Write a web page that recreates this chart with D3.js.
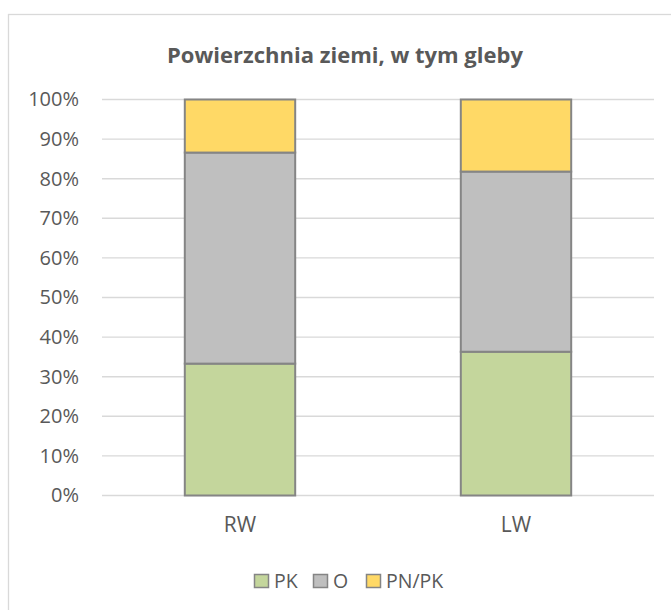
<!DOCTYPE html>
<html>
<head>
<meta charset="utf-8">
<script src="https://cdn.jsdelivr.net/npm/d3@7"></script>
<style>
  html, body { margin: 0; padding: 0; background: #ffffff; }
  svg { display: block; }
  text { font-family: "Open Sans", "DejaVu Sans", sans-serif; fill: #595959; }
</style>
</head>
<body>
<script>
// Land surface, including soils — share of each class per site (%)
const categories = ["RW", "LW"];
const seriesNames = ["PK", "O", "PN/PK"];
const pkValues = [33.3, 36.3];
const oValues = [53.3, 45.5];
const pnpkValues = [13.4, 18.2];
const yTicks = [0, 10, 20, 30, 40, 50, 60, 70, 80, 90, 100];
const seriesColors = ["#C4D69C", "#BFBFBF", "#FFD966"];
const title = "Powierzchnia ziemi, w tym gleby";

const rows = categories.map((c, i) => ({
  cat: c, "PK": pkValues[i], "O": oValues[i], "PN/PK": pnpkValues[i]
}));

const W = 671, H = 610;
const svg = d3.select("body").append("svg").attr("width", W).attr("height", H);

// chart frame (left and top edges fall inside the page)
svg.append("rect")
  .attr("x", 8.5).attr("y", 14.5)
  .attr("width", 720).attr("height", 720)
  .attr("fill", "none").attr("stroke", "#d9d9d9").attr("stroke-width", 1.3);

const plot = { left: 102, right: 654, top: 99.5, bottom: 495.5 };

const x = d3.scaleBand()
  .domain(categories)
  .range([plot.left, plot.right])
  .paddingInner(0.6)
  .paddingOuter(0.3);

const y = d3.scaleLinear().domain([0, 100]).range([plot.bottom, plot.top]);

// gridlines
svg.append("g")
  .selectAll("line")
  .data(yTicks)
  .join("line")
  .attr("x1", plot.left).attr("x2", plot.right)
  .attr("y1", d => y(d)).attr("y2", d => y(d))
  .attr("stroke", "#d9d9d9").attr("stroke-width", 1.4);

// y axis labels
const yAxis = d3.axisLeft(y).tickValues(yTicks).tickFormat(d => d + "%").tickSize(0).tickPadding(0);
const gy = svg.append("g").attr("transform", "translate(79,0)").call(yAxis);
gy.select(".domain").remove();
gy.selectAll("text")
  .attr("font-size", 20).attr("fill", "#595959")
  .style("font-family", "'Open Sans', sans-serif");

// stacked bars
const stack = d3.stack().keys(seriesNames);
const layers = stack(rows);

svg.append("g")
  .selectAll("g")
  .data(layers)
  .join("g")
  .attr("fill", (d, i) => seriesColors[i])
  .selectAll("rect")
  .data(d => d)
  .join("rect")
  .attr("x", d => x(d.data.cat))
  .attr("width", x.bandwidth())
  .attr("y", d => y(d[1]))
  .attr("height", d => y(d[0]) - y(d[1]))
  .attr("stroke", "#858585")
  .attr("stroke-width", 2);

// category axis labels
const xAxis = d3.axisBottom(x).tickSize(0).tickPadding(0);
const gx = svg.append("g").attr("transform", "translate(0,517)").call(xAxis);
gx.select(".domain").remove();
gx.selectAll("text")
  .attr("font-size", 21).attr("fill", "#595959")
  .attr("dy", "0.71em")
  .style("font-family", "'Open Sans', sans-serif");

// title
svg.append("text")
  .attr("x", 345).attr("y", 63)
  .attr("text-anchor", "middle")
  .attr("font-size", 22).attr("font-weight", "bold")
  .text(title);

// legend
const legendItems = [
  { name: seriesNames[0], color: seriesColors[0], x: 254 },
  { name: seriesNames[1], color: seriesColors[1], x: 313 },
  { name: seriesNames[2], color: seriesColors[2], x: 366 }
];
const lg = svg.append("g");
const li = lg.selectAll("g").data(legendItems).join("g")
  .attr("transform", d => `translate(${d.x},574)`);
li.append("rect")
  .attr("x", 0.5).attr("y", 0.5).attr("width", 14).attr("height", 13)
  .attr("fill", d => d.color).attr("stroke", "#858585").attr("stroke-width", 1.5);
li.append("text")
  .attr("x", 20).attr("y", 14)
  .attr("font-size", 19.5)
  .text(d => d.name);
</script>
</body>
</html>
